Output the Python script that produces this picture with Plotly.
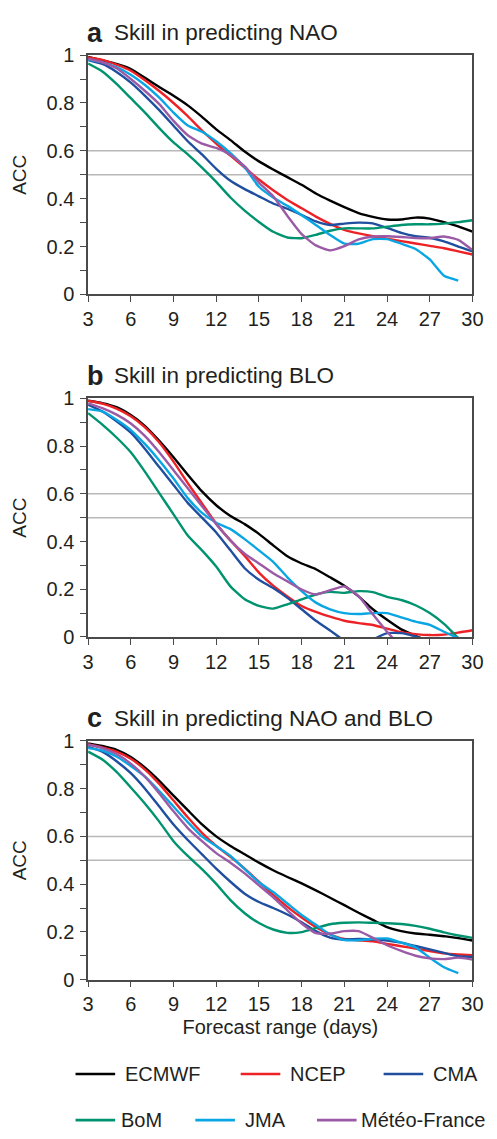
import plotly.graph_objects as go

# ---------------- data ----------------
days = list(range(3, 31))
x_ticks = [3, 6, 9, 12, 15, 18, 21, 24, 27, 30]
models = ["ECMWF", "NCEP", "CMA", "BoM", "JMA", "Météo-France"]
colors = ["#000000", "#ed2226", "#1f4f9e", "#00936f", "#0aa6e4", "#9b5aa6"]
panel_letters = ["a", "b", "c"]
panel_titles = ["Skill in predicting NAO", "Skill in predicting BLO", "Skill in predicting NAO and BLO"]

# Panel a: NAO
ecmwf_a = [0.993, 0.978, 0.963, 0.942, 0.905, 0.867, 0.83, 0.79, 0.742, 0.69, 0.645, 0.597, 0.556, 0.522,
           0.49, 0.458, 0.422, 0.392, 0.365, 0.34, 0.324, 0.313, 0.313, 0.321, 0.317, 0.302, 0.284, 0.262]
ncep_a = [0.99, 0.98, 0.96, 0.935, 0.895, 0.85, 0.80, 0.745, 0.685, 0.63, 0.58, 0.53, 0.48, 0.435,
          0.395, 0.36, 0.325, 0.295, 0.27, 0.255, 0.243, 0.233, 0.223, 0.213, 0.203, 0.193, 0.18, 0.167]
cma_a = [0.98, 0.963, 0.93, 0.885, 0.83, 0.77, 0.705, 0.64, 0.585, 0.525, 0.475, 0.44, 0.41, 0.38,
         0.358, 0.332, 0.305, 0.29, 0.296, 0.3, 0.297, 0.278, 0.257, 0.243, 0.237, 0.222, 0.2, 0.18]
bom_a = [0.965, 0.932, 0.88, 0.82, 0.76, 0.695, 0.635, 0.585, 0.53, 0.47, 0.405, 0.35, 0.303, 0.262,
         0.238, 0.235, 0.249, 0.266, 0.276, 0.276, 0.276, 0.283, 0.29, 0.293, 0.293, 0.296, 0.302, 0.31]
jma_a = [0.98, 0.97, 0.95, 0.918, 0.875, 0.822, 0.76, 0.706, 0.68, 0.64, 0.59, 0.53, 0.45, 0.405,
         0.37, 0.331, 0.29, 0.248, 0.212, 0.212, 0.231, 0.231, 0.212, 0.19, 0.146, 0.078, 0.058, None]
mf_a = [0.985, 0.97, 0.945, 0.9, 0.85, 0.795, 0.725, 0.665, 0.63, 0.612, 0.583, 0.535, 0.467, 0.41,
        0.328, 0.252, 0.205, 0.184, 0.202, 0.23, 0.242, 0.243, 0.24, 0.236, 0.235, 0.242, 0.228, 0.185]

# Panel b: BLO
ecmwf_b = [0.99, 0.98, 0.963, 0.93, 0.884, 0.822, 0.753, 0.68, 0.61, 0.552, 0.507, 0.473, 0.432, 0.384,
           0.338, 0.308, 0.284, 0.25, 0.215, 0.17, 0.116, 0.072, 0.032, 0.005, -0.02, -0.04, -0.06, -0.08]
ncep_b = [0.99, 0.978, 0.957, 0.925, 0.878, 0.815, 0.735, 0.645, 0.56, 0.475, 0.405, 0.34, 0.27, 0.215,
          0.17, 0.13, 0.105, 0.085, 0.068, 0.058, 0.05, 0.035, 0.02, 0.012, 0.008, 0.01, 0.018, 0.028]
cma_b = [0.973, 0.945, 0.904, 0.856, 0.788, 0.712, 0.637, 0.562, 0.5, 0.438, 0.363, 0.288, 0.24, 0.205,
         0.164, 0.116, 0.068, 0.027, -0.015, -0.03, -0.01, 0.016, 0.016, 0.002, -0.02, -0.04, -0.06, -0.08]
bom_b = [0.938, 0.89, 0.836, 0.774, 0.692, 0.603, 0.514, 0.425, 0.363, 0.295, 0.212, 0.158, 0.13, 0.119,
         0.137, 0.158, 0.178, 0.189, 0.185, 0.192, 0.188, 0.168, 0.155, 0.133, 0.1, 0.055, -0.004, -0.06]
jma_b = [0.955, 0.945, 0.91, 0.867, 0.808, 0.74, 0.664, 0.582, 0.52, 0.479, 0.452, 0.41, 0.363, 0.315,
         0.25, 0.192, 0.144, 0.116, 0.1, 0.096, 0.1, 0.1, 0.082, 0.064, 0.051, 0.022, -0.005, None]
mf_b = [0.979, 0.959, 0.932, 0.895, 0.842, 0.774, 0.699, 0.623, 0.548, 0.473, 0.404, 0.349, 0.308, 0.267,
        0.233, 0.199, 0.178, 0.196, 0.212, 0.171, 0.095, 0.022, -0.04, -0.08, -0.1, -0.12, -0.14, -0.16]

# Panel c: NAO and BLO
ecmwf_c = [0.99, 0.979, 0.963, 0.933, 0.888, 0.833, 0.771, 0.71, 0.65, 0.6, 0.56, 0.525, 0.49, 0.458,
           0.43, 0.403, 0.374, 0.343, 0.312, 0.28, 0.25, 0.22, 0.203, 0.193, 0.188, 0.182, 0.174, 0.164]
ncep_c = [0.985, 0.973, 0.955, 0.925, 0.88, 0.82, 0.75, 0.68, 0.615, 0.56, 0.515, 0.465, 0.41, 0.355,
          0.305, 0.26, 0.22, 0.19, 0.17, 0.165, 0.16, 0.15, 0.14, 0.13, 0.12, 0.11, 0.105, 0.102]
cma_c = [0.975, 0.955, 0.915, 0.865, 0.8, 0.725, 0.65, 0.585, 0.525, 0.465, 0.41, 0.36, 0.325, 0.3,
         0.273, 0.24, 0.203, 0.176, 0.168, 0.17, 0.168, 0.164, 0.155, 0.141, 0.127, 0.112, 0.098, 0.095]
bom_c = [0.955, 0.922, 0.87, 0.805, 0.737, 0.662, 0.58, 0.518, 0.463, 0.401, 0.333, 0.278, 0.237, 0.21,
         0.196, 0.199, 0.216, 0.232, 0.238, 0.24, 0.238, 0.236, 0.233, 0.225, 0.213, 0.198, 0.185, 0.175]
jma_c = [0.97, 0.96, 0.935, 0.895, 0.85, 0.79, 0.725, 0.66, 0.6, 0.559, 0.518, 0.463, 0.408, 0.367,
         0.319, 0.271, 0.23, 0.189, 0.166, 0.165, 0.171, 0.172, 0.155, 0.135, 0.092, 0.052, 0.027, None]
mf_c = [0.985, 0.97, 0.945, 0.905, 0.85, 0.78, 0.705, 0.635, 0.58, 0.53, 0.49, 0.445, 0.395, 0.345,
        0.29, 0.235, 0.195, 0.193, 0.203, 0.203, 0.175, 0.144, 0.12, 0.1, 0.089, 0.086, 0.092, 0.084]

panels = [
    [ecmwf_a, ncep_a, cma_a, bom_a, jma_a, mf_a],
    [ecmwf_b, ncep_b, cma_b, bom_b, jma_b, mf_b],
    [ecmwf_c, ncep_c, cma_c, bom_c, jma_c, mf_c],
]

# ---------------- layout constants ----------------
W, H = 497, 1139
FONT = "Liberation Sans, Arial, Helvetica, sans-serif"
TXT = "#231f20"
AX = "#4a4a4a"
GRID = "#b8b8b8"

x_left, x_right = 85, 483
panel_px = [(45, 289), (395, 638.3), (744.3, 987.7)]  # top, bottom in px


def py(v):
    return 1 - v / H


def px(v):
    return v / W


fig = go.Figure()

for i, series in enumerate(panels):
    n = "" if i == 0 else str(i + 1)
    for name, col, vals in zip(models, colors, series):
        fig.add_trace(go.Scatter(
            x=days, y=vals, name=name, mode="lines",
            line=dict(color=col, width=2.4, shape="spline", smoothing=0.5),
            xaxis="x" + n, yaxis="y" + n, showlegend=False, connectgaps=False,
        ))
    top, bot = panel_px[i]
    xa = dict(
        domain=[px(x_left), px(x_right)], range=[3, 30], tickvals=x_ticks,
        ticks="outside", ticklen=6, tickwidth=1.3, tickcolor=AX,
        showline=True, linecolor=AX, linewidth=1.5, mirror=True,
        showgrid=False, zeroline=False, anchor="y" + n,
        tickfont=dict(size=20, color=TXT, family=FONT),
    )
    if i == 2:
        xa["title"] = dict(text="Forecast range (days)", font=dict(size=20, color=TXT, family=FONT), standoff=6)
    ya = dict(
        domain=[py(bot), py(top)], range=[0, 1], dtick=0.2,
        ticks="outside", ticklen=6, tickwidth=1.3, tickcolor=AX, ticklabelstandoff=2,
        minor=dict(dtick=0.1, ticks="outside", ticklen=6, tickwidth=1.3, tickcolor=AX, showgrid=False),
        showline=True, linecolor=AX, linewidth=1.5, mirror=True,
        showgrid=False, zeroline=False, anchor="x" + n,
        tickfont=dict(size=20, color=TXT, family=FONT),
        title=dict(text="ACC", font=dict(size=19, color=TXT, family=FONT), standoff=15),
    )
    fig.layout["xaxis" + n] = xa
    fig.layout["yaxis" + n] = ya
    # reference lines at 0.5 and 0.6
    for yv in (0.5, 0.6):
        fig.add_shape(type="line", xref="x" + n + " domain", yref="y" + n, x0=0, x1=1, y0=yv, y1=yv,
                      line=dict(color=GRID, width=1.5), layer="below")
    # panel titles
    fig.add_annotation(text="<b>" + panel_letters[i] + "</b>", xref="paper", yref="paper",
                       x=px(x_left - 3), y=py(top - 23), xanchor="left", yanchor="middle",
                       showarrow=False, font=dict(size=27, color=TXT, family=FONT))
    fig.add_annotation(text=panel_titles[i], xref="paper", yref="paper",
                       x=px(110), y=py(top - 23), xanchor="left", yanchor="middle",
                       showarrow=False, font=dict(size=22.5, color=TXT, family=FONT))

# ---------------- legend (manual) ----------------
leg_rows = [1084, 1131]
leg_line_x = [72, 243, 391, 72, 196, 322]
leg_text_x = [121, 292, 440, 117, 245, 366]
for k, (name, col) in enumerate(zip(models, colors)):
    yy = leg_rows[k // 3]
    fig.add_shape(type="line", xref="paper", yref="paper",
                  x0=px(leg_line_x[k]), x1=px(leg_line_x[k] + 41), y0=py(yy), y1=py(yy),
                  line=dict(color=col, width=2.6))
    fig.add_annotation(text=name, xref="paper", yref="paper", x=px(leg_text_x[k]), y=py(yy),
                       xanchor="left", yanchor="middle", showarrow=False,
                       font=dict(size=20, color=TXT, family=FONT))

fig.update_layout(
    width=W, height=H, margin=dict(l=0, r=0, t=0, b=0),
    paper_bgcolor="white", plot_bgcolor="white", showlegend=False,
    font=dict(family=FONT, color=TXT),
)

fig.write_html("out.html")
